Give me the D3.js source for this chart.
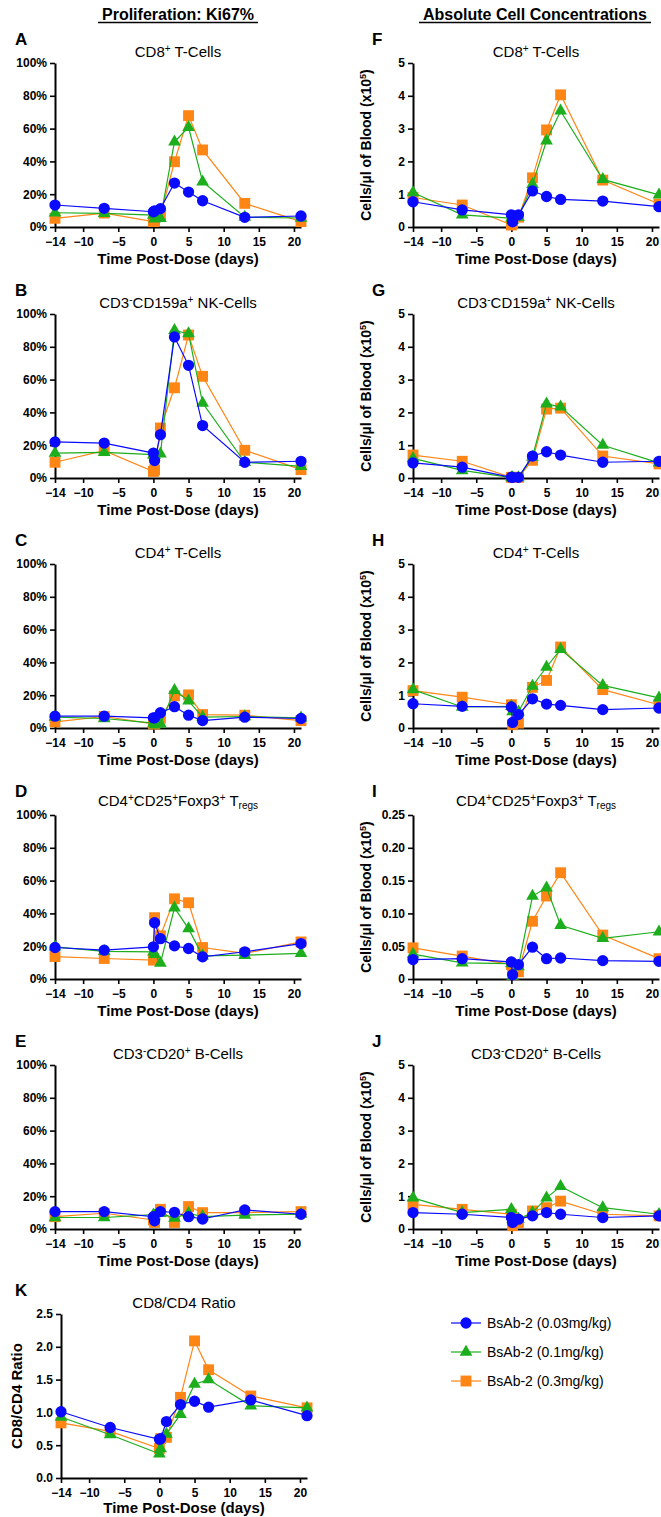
<!DOCTYPE html>
<html>
<head>
<meta charset="utf-8">
<script src="https://cdn.jsdelivr.net/npm/d3@7"></script>
<style>
  body { margin: 0; background: #fff; }
  svg { display: block; font-family: "Liberation Sans", Arial, sans-serif; }
</style>
</head>
<body>
<svg id="chart" width="661" height="1517"></svg>
<script>
// Sampling days (two samples on day 0: pre-dose and a few hours post-dose)
const days = [-14, -7, 0, 0.17, 1, 3, 5, 7, 13, 21];
const dayTicks = [-14, -10, -5, 0, 5, 10, 15, 20];

const doseLabels = ['BsAb-2 (0.03mg/kg)', 'BsAb-2 (0.1mg/kg)', 'BsAb-2 (0.3mg/kg)'];
const doseColors = ['#0a0aff', '#1cae1c', '#ff8515'];

const pctTicks = [0, 20, 40, 60, 80, 100];
const cellTicks = [0, 1, 2, 3, 4, 5];
const tregCellTicks = [0, 0.05, 0.10, 0.15, 0.20, 0.25];
const ratioTicks = [0, 0.5, 1.0, 1.5, 2.0, 2.5];

// Ki67+ (%) — rows: 0.03, 0.1, 0.3 mg/kg
const ki67Cd8 = [
  [13.4, 11.4, 9.3, 9.8, 11.2, 26.8, 21.3, 16, 5.9, 6.7],
  [8.7, 8.3, 7.3, 5, 5.3, 52, 60.8, 27.6, 6, 5.5],
  [5.3, 8.5, 3.3, 4, 7, 39.8, 67.9, 47, 14.4, 3.3]
];
const ki67Nk = [
  [22, 21.3, 15.2, 10.6, 26.4, 86, 68.7, 32, 9.6, 10.2],
  [15.2, 15.6, 14.2, 14, 14.8, 90, 88, 45.7, 9.6, 7.1],
  [9.6, 16.7, 4, 5, 30.5, 55, 87.2, 62, 16.9, 5.1]
];
const ki67Cd4 = [
  [7.2, 7.2, 6.2, 6.2, 9.3, 13, 7.8, 4.5, 6.6, 5.8],
  [6.6, 5.8, 3, 2, 2.5, 23, 16.5, 6.6, 7, 6.2],
  [3.7, 7, 2.5, 2.5, 6, 19.6, 20.2, 8.2, 7.8, 4.5]
];
const ki67Treg = [
  [19.2, 17.6, 19.6, 34.3, 24.6, 20.2, 18.6, 13.5, 16.6, 21.6],
  [19.6, 16.8, 16.6, 15, 9.7, 43.4, 30.7, 14.1, 14.5, 15.6],
  [13.7, 12.5, 11.5, 37.4, 26.3, 48.9, 46.5, 19.2, 15.6, 22.6]
];
const ki67B = [
  [10.6, 10.6, 7.5, 5, 10.6, 10.2, 7.5, 6.1, 11.6, 9],
  [7, 7, 8.7, 8, 9.6, 6.7, 9.6, 7.5, 8.5, 9.1],
  [7.5, 9.6, 5.5, 4, 12, 4, 13.7, 10, 10, 10.6]
];

// Absolute counts (cells/µl x10^5)
const cellsCd8 = [
  [0.77, 0.52, 0.37, 0.16, 0.37, 1.1, 0.93, 0.84, 0.79, 0.62],
  [1.05, 0.37, 0.27, 0.2, 0.3, 1.3, 2.63, 3.54, 1.45, 0.98],
  [0.9, 0.67, 0.06, 0.1, 0.3, 1.5, 2.96, 4.03, 1.43, 0.7]
];
const cellsNk = [
  [0.46, 0.33, 0.02, 0.02, 0.02, 0.67, 0.8, 0.7, 0.48, 0.51],
  [0.6, 0.23, 0.01, 0.01, 0.01, 0.64, 2.26, 2.17, 1.0, 0.46],
  [0.7, 0.51, 0.02, 0.02, 0.02, 0.54, 2.1, 2.13, 0.67, 0.43]
];
const cellsCd4 = [
  [0.74, 0.66, 0.64, 0.17, 0.41, 0.89, 0.73, 0.69, 0.56, 0.61],
  [1.17, 0.64, 0.66, 0.5, 0.49, 1.28, 1.86, 2.4, 1.3, 0.92],
  [1.14, 0.94, 0.71, 0.1, 0.15, 1.24, 1.45, 2.47, 1.17, 0.71]
];
const cellsTreg = [
  [0.0296, 0.031, 0.026, 0.0066, 0.022, 0.0485, 0.031, 0.032, 0.028, 0.027],
  [0.038, 0.0245, 0.0235, 0.004, 0.019, 0.1265, 0.139, 0.082, 0.062, 0.072],
  [0.0475, 0.035, 0.022, 0.015, 0.011, 0.088, 0.1265, 0.162, 0.067, 0.031]
];
const cellsB = [
  [0.5, 0.45, 0.35, 0.2, 0.3, 0.4, 0.5, 0.45, 0.35, 0.4],
  [0.95, 0.5, 0.6, 0.3, 0.3, 0.5, 0.95, 1.3, 0.65, 0.45],
  [0.75, 0.6, 0.45, 0.1, 0.2, 0.55, 0.65, 0.85, 0.45, 0.4]
];

const cd8cd4Ratio = [
  [1.01, 0.77, 0.59, 0.6, 0.86, 1.12, 1.17, 1.08, 1.19, 0.95],
  [0.93, 0.66, 0.37, 0.45, 0.67, 0.97, 1.43, 1.5, 1.1, 1.07],
  [0.84, 0.71, 0.45, 0.6, 0.62, 1.23, 2.09, 1.65, 1.25, 1.07]
];

// Title pieces: [text, 'sup' | 'sub' | '']
const tCd8 = [['CD8', ''], ['+', 'sup'], [' T-Cells', '']];
const tNk = [['CD3', ''], ['-', 'sup'], ['CD159a', ''], ['+', 'sup'], [' NK-Cells', '']];
const tCd4 = [['CD4', ''], ['+', 'sup'], [' T-Cells', '']];
const tTreg = [['CD4', ''], ['+', 'sup'], ['CD25', ''], ['+', 'sup'], ['Foxp3', ''], ['+', 'sup'], [' T', ''], ['regs', 'sub']];
const tB = [['CD3', ''], ['-', 'sup'], ['CD20', ''], ['+', 'sup'], [' B-Cells', '']];

const svg = d3.select('#chart');
const FONT = '"Liberation Sans", Arial, sans-serif';
const PLOT_W = 246, PLOT_H = 164;
const tops = [63, 314, 564, 815, 1065, 1314];

const fmtPct = d => d + '%';
const fmtInt = d => d3.format('d')(d);
const fmtTreg = d => d === 0 ? '0' : d3.format('.2f')(d);
const fmtRatio = d3.format('.1f');

const panels = [
  { letter: 'A', title: tCd8, data: ki67Cd8, col: 0, row: 0, yMax: 100, ticks: pctTicks, fmt: fmtPct },
  { letter: 'B', title: tNk, data: ki67Nk, col: 0, row: 1, yMax: 100, ticks: pctTicks, fmt: fmtPct },
  { letter: 'C', title: tCd4, data: ki67Cd4, col: 0, row: 2, yMax: 100, ticks: pctTicks, fmt: fmtPct },
  { letter: 'D', title: tTreg, data: ki67Treg, col: 0, row: 3, yMax: 100, ticks: pctTicks, fmt: fmtPct },
  { letter: 'E', title: tB, data: ki67B, col: 0, row: 4, yMax: 100, ticks: pctTicks, fmt: fmtPct },
  { letter: 'F', title: tCd8, data: cellsCd8, col: 1, row: 0, yMax: 5, ticks: cellTicks, fmt: fmtInt, yTitle: 'cells' },
  { letter: 'G', title: tNk, data: cellsNk, col: 1, row: 1, yMax: 5, ticks: cellTicks, fmt: fmtInt, yTitle: 'cells' },
  { letter: 'H', title: tCd4, data: cellsCd4, col: 1, row: 2, yMax: 5, ticks: cellTicks, fmt: fmtInt, yTitle: 'cells' },
  { letter: 'I', title: tTreg, data: cellsTreg, col: 1, row: 3, yMax: 0.25, ticks: tregCellTicks, fmt: fmtTreg, yTitle: 'cells' },
  { letter: 'J', title: tB, data: cellsB, col: 1, row: 4, yMax: 5, ticks: cellTicks, fmt: fmtInt, yTitle: 'cells' },
  { letter: 'K', title: [['CD8/CD4 Ratio', '']], data: cd8cd4Ratio, col: 2, row: 5, yMax: 2.5, ticks: ratioTicks, fmt: fmtRatio, yTitle: 'ratio', xTitleDy: 35 }
];

const colX = [55, 413, 61];
const letterX = [15, 372, 15];

function richText(sel, pieces, size) {
  pieces.forEach(([txt, kind], i) => {
    const prev = i > 0 ? pieces[i - 1][1] : '';
    let dy = 0;
    if (prev === 'sup') dy += 5;
    if (prev === 'sub') dy -= 3;
    if (kind === 'sup') dy -= 5;
    if (kind === 'sub') dy += 3;
    sel.append('tspan')
      .attr('dy', dy)
      .attr('font-size', kind ? Math.round(size * 0.66) : size)
      .text(txt);
  });
}

function styleAxis(g) {
  g.select('.domain').attr('stroke', '#000').attr('stroke-width', 2);
  g.selectAll('.tick line').attr('stroke', '#000').attr('stroke-width', 1.6);
  g.selectAll('.tick text')
    .attr('fill', '#000')
    .attr('font-family', FONT)
    .attr('font-size', 12)
    .attr('font-weight', 700);
}

const shapes = [d3.symbolCircle, d3.symbolTriangle, d3.symbolSquare];
const shapeSizes = [100, 70, 118];

function drawPanel(p) {
  const x0 = colX[p.col];
  const top = tops[p.row];
  const bottom = top + PLOT_H;
  const x = d3.scaleLinear().domain([-14, 21]).range([x0, x0 + PLOT_W]);
  const y = d3.scaleLinear().domain([0, p.yMax]).range([bottom, top]);
  const g = svg.append('g');

  // Panel letter
  g.append('text')
    .attr('x', letterX[p.col]).attr('y', top - 18)
    .attr('font-family', FONT).attr('font-size', 17).attr('font-weight', 700)
    .text(p.letter);

  // Title
  const hasSub = p.title.some(t => t[1] === 'sub');
  const title = g.append('text')
    .attr('x', (x0 + x0 + PLOT_W) / 2).attr('y', top - (hasSub ? 9 : 6))
    .attr('text-anchor', 'middle')
    .attr('font-family', FONT).attr('font-size', 15);
  richText(title, p.title, 15);

  // Axes
  g.append('g')
    .attr('transform', `translate(0,${bottom})`)
    .call(d3.axisBottom(x).tickValues(dayTicks).tickSize(5).tickSizeOuter(0).tickPadding(5))
    .call(styleAxis);
  g.append('g')
    .attr('transform', `translate(${x0},0)`)
    .call(d3.axisLeft(y).tickValues(p.ticks).tickFormat(p.fmt).tickSize(5).tickSizeOuter(0).tickPadding(3))
    .call(styleAxis);

  g.append('text')
    .attr('x', x0 + PLOT_W / 2).attr('y', bottom + (p.xTitleDy || 37))
    .attr('text-anchor', 'middle')
    .attr('font-family', FONT).attr('font-size', 15).attr('font-weight', 700)
    .text('Time Post-Dose (days)');

  if (p.yTitle === 'cells') {
    const yt = g.append('text')
      .attr('transform', `translate(${x0 - 42},${(top + bottom) / 2}) rotate(-90)`)
      .attr('text-anchor', 'middle')
      .attr('font-family', FONT).attr('font-size', 14).attr('font-weight', 700);
    richText(yt, [['Cells/µl of Blood (x10', ''], ['5', 'sup'], [')', '']], 14);
  } else if (p.yTitle === 'ratio') {
    g.append('text')
      .attr('transform', `translate(${x0 - 39},${(top + bottom) / 2}) rotate(-90)`)
      .attr('text-anchor', 'middle')
      .attr('font-family', FONT).attr('font-size', 15).attr('font-weight', 700)
      .text('CD8/CD4 Ratio');
  }

  // Series: highest dose drawn first, lowest dose on top
  const line = d3.line().x(d => x(d[0])).y(d => y(d[1]));
  [2, 1, 0].forEach(s => {
    const pts = days.map((d, i) => [d, p.data[s][i]]);
    g.append('path')
      .datum(pts)
      .attr('d', line)
      .attr('fill', 'none')
      .attr('stroke', doseColors[s])
      .attr('stroke-width', 1.2);
    g.selectAll(null)
      .data(pts)
      .join('path')
      .attr('transform', d => `translate(${x(d[0])},${y(d[1])})`)
      .attr('d', d3.symbol().type(shapes[s]).size(shapeSizes[s]))
      .attr('fill', doseColors[s]);
  });
}

panels.forEach(drawPanel);

// Column headers
function header(text, cx) {
  const t = svg.append('text')
    .attr('x', cx).attr('y', 20)
    .attr('text-anchor', 'middle')
    .attr('font-family', FONT).attr('font-size', 16).attr('font-weight', 700)
    .text(text);
  const w = t.node().getComputedTextLength();
  svg.append('line')
    .attr('x1', cx - w / 2 - 4).attr('x2', cx + w / 2 + 4)
    .attr('y1', 22.5).attr('y2', 22.5)
    .attr('stroke', '#000').attr('stroke-width', 1.4);
}
header('Proliferation: Ki67%', 178);
header('Absolute Cell Concentrations', 535);

// Legend
const legend = svg.append('g');
doseLabels.forEach((label, s) => {
  const ly = 1323 + s * 29;
  legend.append('line')
    .attr('x1', 451).attr('x2', 481).attr('y1', ly).attr('y2', ly)
    .attr('stroke', doseColors[s]).attr('stroke-width', 1.2);
  legend.append('path')
    .attr('transform', `translate(466,${ly})`)
    .attr('d', d3.symbol().type(shapes[s]).size(shapeSizes[s]))
    .attr('fill', doseColors[s]);
  legend.append('text')
    .attr('x', 487).attr('y', ly + 5)
    .attr('font-family', FONT).attr('font-size', 14)
    .text(label);
});
</script>
</body>
</html>
